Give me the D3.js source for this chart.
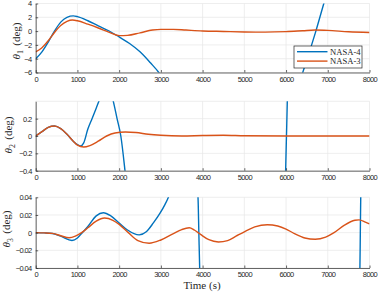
<!DOCTYPE html>
<html>
<head>
<meta charset="utf-8">
<script src="https://cdn.jsdelivr.net/npm/d3@7"></script>
<style>
body { margin: 0; background: #fff; }
.tick text { font-family: "Liberation Sans", Arial, sans-serif; font-size: 7.5px; letter-spacing: -0.6px; fill: #262626; }
.lab { font-family: "Liberation Serif", "Times New Roman", serif; font-size: 11px; fill: #262626; }
</style>
</head>
<body>
<svg id="chart" width="381" height="293"></svg>
<script>
// time ticks shared by all three panels
var timeTicks = [0, 1000, 2000, 3000, 4000, 5000, 6000, 7000, 8000];
var seriesNames = ["NASA-4", "NASA-3"];
var seriesColors = ["#0072BD", "#D95319"];

// theta 1 (deg), [time, value]; values beyond the limits are clipped
var nasa4Theta1 = [[0,-4.0],[150,-3.0],[300,-1.6],[450,0.0],[600,1.3],[750,2.0],[900,2.2],[1000,2.1],[1250,1.5],[1500,0.75],[1750,0.05],[2000,-0.85],[2250,-1.8],[2500,-3.0],[2750,-4.6],[2950,-6.0],[3100,-7.4],[3400,-11],[4500,-20],[5500,-20],[6100,-11],[6400,-6.0],[6700,-0.3],[6900,3.9],[7100,8],[7500,15],[8000,20]];
var nasa3Theta1 = [[0,-3.0],[150,-2.4],[300,-1.4],[450,-0.2],[600,0.8],[750,1.4],[880,1.6],[1000,1.5],[1250,1.0],[1500,0.45],[1750,-0.15],[2000,-0.65],[2200,-0.62],[2500,-0.25],[2800,0.15],[3000,0.25],[3300,0.25],[3600,0.15],[4000,0.02],[4500,-0.05],[5000,-0.12],[5500,-0.15],[6000,-0.08],[6400,0.05],[6700,0.15],[7000,0.1],[7500,-0.1],[8000,-0.2]];
var theta1Ticks = [-6, -4, -2, 0, 2, 4];

// theta 2 (deg)
var nasa4Theta2 = [[0,0],[150,0.05],[300,0.1],[450,0.115],[600,0.085],[750,0.02],[900,-0.06],[1000,-0.1],[1080,-0.115],[1150,-0.08],[1250,0.08],[1350,0.2],[1450,0.32],[1530,0.42],[1650,0.55],[1750,0.58],[1860,0.4],[1950,0.2],[2040,0.0],[2140,-0.4],[2300,-1.2],[3000,-5],[5000,-5],[5900,-3],[5990,-0.4],[6010,0.0],[6030,0.4],[6100,3],[7000,8],[8000,8]];
var nasa3Theta2 = [[0,0],[150,0.05],[300,0.1],[450,0.115],[600,0.085],[750,0.02],[900,-0.06],[1000,-0.105],[1150,-0.127],[1300,-0.11],[1500,-0.06],[1700,0.0],[1900,0.035],[2150,0.046],[2400,0.04],[2700,0.02],[3000,0.008],[3500,0.0],[4000,0.005],[4500,0.008],[5000,0.003],[6000,0],[7000,0],[8000,0]];
var theta2Ticks = [-0.4, -0.2, 0, 0.2];

// theta 3 (deg)
var nasa4Theta3 = [[0,0],[200,-0.0003],[400,-0.001],[600,-0.004],[870,-0.0088],[1000,-0.006],[1100,-0.001],[1250,0.007],[1450,0.019],[1620,0.0226],[1800,0.019],[2000,0.011],[2200,0.003],[2480,-0.0025],[2650,0.001],[2820,0.011],[2980,0.022],[3100,0.032],[3180,0.04],[3300,0.06],[3600,0.1],[3850,0.06],[3890,0.04],[3910,0],[3930,-0.04],[3980,-0.08],[5000,-0.3],[7700,-0.1],[7770,-0.04],[7780,0],[7790,0.04],[7850,0.1],[8000,0.3]];
var nasa3Theta3 = [[0,0],[200,-0.0003],[400,-0.0008],[600,-0.0035],[800,-0.0058],[950,-0.004],[1100,0.0],[1250,0.0055],[1450,0.013],[1650,0.0165],[1850,0.014],[2000,0.0094],[2220,0.0],[2450,-0.009],[2720,-0.012],[3000,-0.0083],[3300,-0.001],[3500,0.0035],[3680,0.0055],[3800,0.003],[3950,-0.002],[4150,-0.008],[4380,-0.0105],[4600,-0.009],[4800,-0.004],[5000,0.001],[5250,0.0065],[5550,0.009],[5800,0.0075],[6000,0.004],[6200,-0.001],[6450,-0.006],[6700,-0.0075],[6950,-0.005],[7150,0.0],[7400,0.0085],[7650,0.014],[7750,0.0145],[7900,0.012],[8000,0.0098]];
var theta3Ticks = [-0.04, -0.02, 0, 0.02, 0.04];

var svg = d3.select('#chart');
var xScale = d3.scaleLinear().domain([0, 8000]).range([35.7, 369.5]);

//labelX / labelY place the rotated y label (its baseline and centre)
var panels = [
    {id: 1, series: [nasa4Theta1, nasa3Theta1], domain: [-6, 4], ticks: theta1Ticks, grid: [-6,-4,-2,0,2,4], top: 3.5, bottom: 72.5, labelX: 20, labelY: 41, fmt: d3.format("d")},
    {id: 2, series: [nasa4Theta2, nasa3Theta2], domain: [-0.4, 0.4], ticks: theta2Ticks, grid: [-0.4,-0.2,0,0.2,0.4], top: 101.3, bottom: 170.7, labelX: 12, labelY: 135, fmt: function(d){ return d == 0 ? "0" : d3.format(".1f")(d); }},
    {id: 3, series: [nasa4Theta3, nasa3Theta3], domain: [-0.04, 0.04], ticks: theta3Ticks, grid: theta3Ticks, top: 197.3, bottom: 268, labelX: 10, labelY: 229, fmt: function(d){ return d == 0 ? "0" : d3.format(".2f")(d); }}
];

panels.forEach(function(p){
    var yScale = d3.scaleLinear().domain(p.domain).range([p.bottom, p.top]);
    var g = svg.append("g");

    svg.append("clipPath").attr("id", "clip" + p.id)
        .append("rect")
        .attr("x", xScale.range()[0]).attr("y", p.top)
        .attr("width", xScale.range()[1] - xScale.range()[0])
        .attr("height", p.bottom - p.top);

    //grid lines
    g.selectAll(".gx").data(timeTicks).enter().append("line")
        .attr("x1", function(d){ return xScale(d); }).attr("x2", function(d){ return xScale(d); })
        .attr("y1", p.top).attr("y2", p.bottom)
        .style("stroke", "#e6e6e6").style("stroke-width", 0.7);
    g.selectAll(".gy").data(p.grid).enter().append("line")
        .attr("x1", xScale.range()[0]).attr("x2", xScale.range()[1])
        .attr("y1", function(d){ return yScale(d); }).attr("y2", function(d){ return yScale(d); })
        .style("stroke", "#e6e6e6").style("stroke-width", 0.7);

    //lines, NASA-4 first so NASA-3 sits on top
    var line = d3.line()
        .x(function(d){ return xScale(d[0]); })
        .y(function(d){ return yScale(d[1]); })
        .curve(d3.curveMonotoneX);
    p.series.forEach(function(s, i){
        g.append("path").datum(s)
            .attr("clip-path", "url(#clip" + p.id + ")")
            .attr("d", line)
            .style("fill", "none")
            .style("stroke", seriesColors[i])
            .style("stroke-width", 1.4);
    });

    //axes
    var xAxis = d3.axisBottom(xScale).tickValues(timeTicks).tickFormat(d3.format("d")).tickSizeInner(-2.5).tickSizeOuter(0).tickPadding(4);
    var yAxis = d3.axisLeft(yScale).tickValues(p.ticks).tickSizeInner(-2.5).tickSizeOuter(0).tickPadding(4).tickFormat(p.fmt);
    var gx = g.append("g").attr("transform", "translate(0," + p.bottom + ")").call(xAxis);
    var gy = g.append("g").attr("transform", "translate(" + xScale.range()[0] + ",0)").call(yAxis);
    [gx, gy].forEach(function(a){
        a.select(".domain").style("stroke", "#262626").style("stroke-width", 0.7);
        a.selectAll(".tick line").style("stroke", "#262626").style("stroke-width", 0.7);
    });

    //y label with subscript
    var yl = svg.append("text").attr("class", "lab")
        .attr("transform", "translate(" + p.labelX + "," + p.labelY + ") rotate(-90)")
        .style("text-anchor", "middle");
    yl.append("tspan").style("font-style", "italic").text("θ");
    yl.append("tspan").attr("dy", 2.5).style("font-size", "7.8px").text(p.id);
    yl.append("tspan").attr("dy", -2.5).attr("dx", 4.5).text("(deg)");
});

svg.append("text").attr("class", "lab")
    .attr("x", 202).attr("y", 288.5)
    .style("text-anchor", "middle")
    .text("Time (s)");

//legend
var legend = svg.append("g");
legend.append("rect")
    .attr("x", 294).attr("y", 46).attr("width", 68).attr("height", 22)
    .style("fill", "#fff").style("stroke", "#262626").style("stroke-width", 0.7);
seriesNames.forEach(function(name, i){
    var y = 51.7 + i * 9.4;
    legend.append("line")
        .attr("x1", 297).attr("x2", 327.5).attr("y1", y).attr("y2", y)
        .style("stroke", seriesColors[i]).style("stroke-width", 1.4);
    legend.append("text").attr("class", "lab")
        .attr("x", 330).attr("y", y + 3)
        .style("font-size", "8.6px")
        .text(name);
});
</script>
</body>
</html>
